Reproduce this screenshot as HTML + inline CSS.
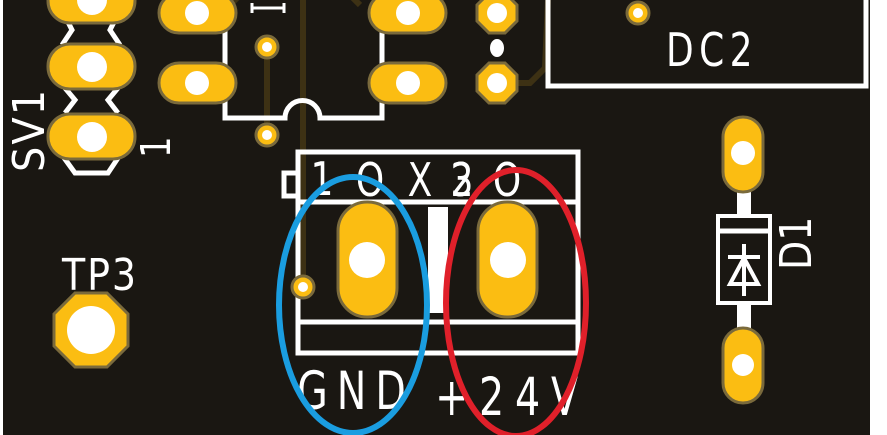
<!DOCTYPE html>
<html><head><meta charset="utf-8"><style>
html,body{margin:0;padding:0;background:#fff;}
svg{display:block;}
text{font-family:"DejaVu Sans","Liberation Sans",sans-serif;fill:#fff;}
</style></head><body>
<svg width="887" height="435" viewBox="0 0 887 435" xmlns="http://www.w3.org/2000/svg">
<rect x="3" y="0" width="867" height="435" fill="#1a1712"/>
<g stroke="#3d3114" stroke-width="6" fill="none">
<line x1="303" y1="0" x2="303" y2="287"/>
<line x1="267" y1="47" x2="267" y2="135"/>
<polyline points="497,83 530,83 545,68 548,0"/>
<line x1="232" y1="3" x2="240" y2="-5"/>
<line x1="360" y1="5" x2="352" y2="-3"/>
</g>
<g stroke="#fff" stroke-width="5" fill="none" stroke-linejoin="miter">
<polyline points="62,0 62,10 72,30 62,45"/>
<polyline points="120,0 120,10 110,30 120,45"/>
<polyline points="65,88 75,100 65,113"/>
<polyline points="118,88 108,100 118,113"/>
<polyline points="62,155 75,173 108,173 120,155"/>
<path d="M225,0 V118 H285 A17,17 0 0 1 320,118 H382 V0"/>
<path d="M252,8 H284 M252,3 V13 M284,3 V13" stroke-width="3"/>
<path d="M548,0 V86 H866 V0"/>
<rect x="298" y="152" width="280" height="201"/>
<line x1="298" y1="202" x2="578" y2="202"/>
<line x1="298" y1="322" x2="578" y2="322"/>
<path d="M298,173 H284 V196 H298"/>
<rect x="718" y="216" width="52" height="87" stroke-width="4"/>
<line x1="718" y1="231" x2="770" y2="231" stroke-width="5"/>
<line x1="744" y1="244" x2="744" y2="296" stroke-width="4"/>
<line x1="728" y1="257" x2="760" y2="257" stroke-width="4"/>
<path d="M744,258 L730,284 H758 Z" stroke-width="4"/>
</g>
<rect x="737" y="190" width="14" height="27" fill="#fff"/>
<rect x="737" y="302" width="14" height="27" fill="#fff"/>
<rect x="428" y="207" width="20" height="106" fill="#fff"/>
<g fill="#fbbd12" stroke="#7a6a3c" stroke-width="3">
<rect x="48" y="-22" width="87" height="45" rx="22"/>
<rect x="48" y="44" width="87" height="45" rx="22"/>
<rect x="48" y="114" width="87" height="45" rx="22"/>
<rect x="159" y="-7" width="77" height="40" rx="20"/>
<rect x="159" y="63" width="77" height="40" rx="20"/>
<rect x="369" y="-7" width="77" height="40" rx="20"/>
<rect x="369" y="63" width="77" height="40" rx="20"/>
<circle cx="267" cy="47" r="11"/>
<circle cx="267" cy="135" r="11"/>
<circle cx="638" cy="13" r="11"/>
<circle cx="303" cy="287" r="11"/>
<polygon points="489,-7 505,-7 517,5 517,21 505,33 489,33 477,21 477,5"/>
<polygon points="489,63 505,63 517,75 517,91 505,103 489,103 477,91 477,75"/>
<polygon points="75,293 107,293 128,314 128,346 107,367 75,367 54,346 54,314"/>
<rect x="338" y="202" width="59" height="115" rx="29"/>
<rect x="478" y="202" width="59" height="115" rx="29"/>
<rect x="723" y="117" width="40" height="75" rx="20"/>
<rect x="723" y="328" width="40" height="75" rx="20"/>
</g>
<g fill="#fff">
<circle cx="92" cy="0" r="15"/><circle cx="92" cy="67" r="15"/><circle cx="92" cy="137" r="15"/>
<circle cx="197" cy="13" r="12"/><circle cx="197" cy="83" r="12"/>
<circle cx="408" cy="13" r="12"/><circle cx="408" cy="83" r="12"/>
<circle cx="267" cy="47" r="5"/><circle cx="267" cy="135" r="5"/><circle cx="638" cy="13" r="5"/><circle cx="303" cy="287" r="5"/>
<circle cx="497" cy="13" r="10"/><circle cx="497" cy="83" r="10"/>
<ellipse cx="497" cy="48" rx="7" ry="9"/>
<circle cx="91" cy="330" r="24"/>
<circle cx="367" cy="260" r="18"/><circle cx="508" cy="260" r="18"/>
<circle cx="743" cy="153" r="12"/><circle cx="743" cy="365" r="11"/>
</g>
<text transform="translate(712,66) scale(0.9,1.15)" font-size="40" text-anchor="middle" letter-spacing="6">DC2</text>
<text transform="translate(100,290) scale(0.95,1.1)" font-size="40" text-anchor="middle" letter-spacing="2">TP3</text>
<text transform="translate(356,409) scale(0.9,1.2)" font-size="44" text-anchor="middle" letter-spacing="10">GND</text>
<text transform="translate(512,415) scale(0.9,1.2)" font-size="44" text-anchor="middle" letter-spacing="12">+24V</text>
<g font-size="40" text-anchor="middle">
<text transform="translate(322,195) scale(0.9,1.15)">1</text>
<text transform="translate(370,196) scale(0.9,1.15)">O</text>
<text transform="translate(420,196) scale(0.9,1.15)">X</text>
<text transform="translate(462,196) scale(0.9,1.15)">3</text>
<text transform="translate(462,196) scale(0.9,1.15)">2</text>
<text transform="translate(507,196) scale(0.9,1.15)">O</text>
</g>
<text transform="translate(44,172) rotate(-90) scale(1.05,1.15)" font-size="38" letter-spacing="2">SV1</text>
<text transform="translate(170,158) rotate(-90) scale(1,1.2)" font-size="34">1</text>
<text transform="translate(811,270) rotate(-90) scale(1,1.15)" font-size="38">D1</text>
<ellipse cx="353" cy="305" rx="74" ry="128" fill="none" stroke="#1a9de0" stroke-width="6"/>
<ellipse cx="516" cy="303" rx="70" ry="133" fill="none" stroke="#e0202a" stroke-width="6"/>
</svg>
</body></html>
